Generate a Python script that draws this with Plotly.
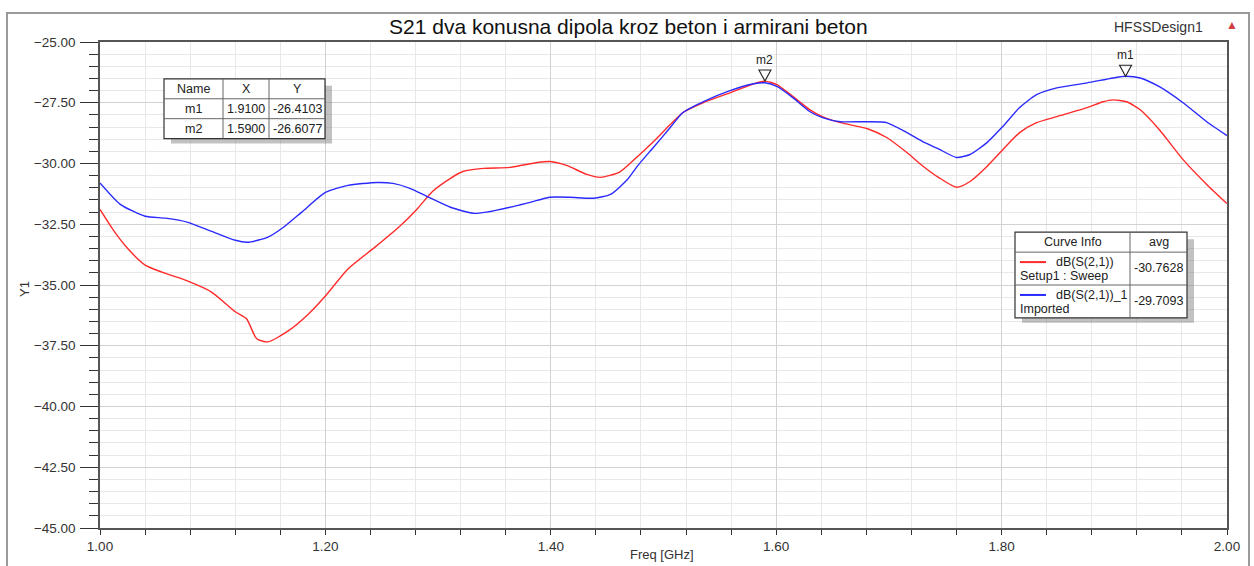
import plotly.graph_objects as go

# ---- data -----------------------------------------------------------------
freq_sweep = [1.000, 1.012, 1.025, 1.040, 1.055, 1.078, 1.099, 1.120, 1.130, 1.139,
              1.149, 1.167, 1.185, 1.200, 1.220, 1.244, 1.266, 1.281, 1.295, 1.311,
              1.322, 1.340, 1.364, 1.388, 1.399, 1.414, 1.432, 1.444, 1.461, 1.476,
              1.491, 1.506, 1.517, 1.535, 1.559, 1.580, 1.590, 1.601, 1.615, 1.630,
              1.641, 1.657, 1.681, 1.698, 1.716, 1.730, 1.744, 1.760, 1.772, 1.787,
              1.801, 1.816, 1.831, 1.849, 1.876, 1.890, 1.899, 1.911, 1.923, 1.940,
              1.961, 1.982, 2.000]
s21_sweep = [-31.89, -32.75, -33.52, -34.18, -34.47, -34.84, -35.29, -36.10, -36.39, -37.21,
             -37.34, -36.89, -36.19, -35.45, -34.34, -33.44, -32.58, -31.89, -31.15, -30.61,
             -30.33, -30.20, -30.16, -29.96, -29.92, -30.08, -30.45, -30.57, -30.35, -29.75,
             -29.10, -28.40, -27.91, -27.50, -27.09, -26.72, -26.61, -26.76, -27.25, -27.79,
             -28.07, -28.32, -28.57, -28.93, -29.55, -30.10, -30.57, -30.98, -30.74, -30.12,
             -29.43, -28.73, -28.32, -28.07, -27.70, -27.46, -27.38, -27.46, -27.79, -28.61,
             -29.84, -30.86, -31.65]

freq_imported = [1.000, 1.018, 1.040, 1.058, 1.078, 1.099, 1.120, 1.131, 1.149, 1.164,
                 1.179, 1.200, 1.220, 1.246, 1.260, 1.275, 1.290, 1.311, 1.331, 1.343,
                 1.364, 1.388, 1.399, 1.417, 1.438, 1.453, 1.468, 1.477, 1.491, 1.506,
                 1.517, 1.535, 1.559, 1.580, 1.590, 1.601, 1.615, 1.630, 1.641, 1.657,
                 1.681, 1.698, 1.716, 1.730, 1.744, 1.760, 1.772, 1.787, 1.801, 1.816,
                 1.831, 1.849, 1.876, 1.899, 1.910, 1.923, 1.940, 1.961, 1.982, 2.000]
s21_imported = [-30.80, -31.68, -32.17, -32.25, -32.42, -32.79, -33.16, -33.24, -33.03, -32.58,
                -32.00, -31.19, -30.90, -30.78, -30.82, -31.02, -31.35, -31.80, -32.05, -32.00,
                -31.80, -31.52, -31.39, -31.39, -31.43, -31.27, -30.66, -30.10, -29.34, -28.52,
                -27.91, -27.46, -27.00, -26.72, -26.68, -26.84, -27.30, -27.87, -28.11, -28.28,
                -28.28, -28.32, -28.73, -29.10, -29.40, -29.75, -29.63, -29.14, -28.48, -27.70,
                -27.17, -26.89, -26.68, -26.48, -26.41, -26.48, -26.84, -27.50, -28.28, -28.85]

marker_names = ["m1", "m2"]
marker_x = [1.9100, 1.5900]
marker_y = [-26.4103, -26.6077]

curve_names = ["dB(S(2,1))", "dB(S(2,1))_1"]
curve_sources = ["Setup1 : Sweep", "Imported"]
curve_avg = [-30.7628, -29.7093]
curve_colors = ["#ff2a2a", "#2a2aff"]

title_text = "S21 dva konusna dipola kroz beton i armirani beton"
design_name = "HFSSDesign1"
x_title = "Freq [GHz]"
y_title = "Y1"

# ---- layout geometry (pixels) ---------------------------------------------
W, H = 1254, 566
L, R, T, B = 100, 1227, 42, 530
FONT = "Liberation Sans, Arial, sans-serif"
TFS = 12.5  # table font size


def px(x):
    return (x - L) / (R - L)


def py(y):
    return (B - y) / (B - T)


fig = go.Figure()

for fx, fy, col, nm in [(freq_sweep, s21_sweep, curve_colors[0], curve_names[0]),
                        (freq_imported, s21_imported, curve_colors[1], curve_names[1])]:
    fig.add_trace(go.Scatter(x=fx, y=fy, mode="lines", name=nm,
                             line=dict(color=col, width=1.4, shape="spline", smoothing=0.6),
                             showlegend=False, hoverinfo="x+y"))

shapes = []
ann = []

# marker triangles and labels
for nm, mx, my in zip(marker_names, marker_x, marker_y):
    shapes.append(dict(type="path", xref="x", yref="y", xsizemode="pixel", ysizemode="pixel",
                       xanchor=mx, yanchor=my, path="M -6 11 L 6 11 L 0 0 Z",
                       line=dict(color="#222", width=1.1), fillcolor="rgba(0,0,0,0)"))
    ann.append(dict(x=mx, y=my, xref="x", yref="y", text=nm, showarrow=False,
                    xanchor="center", yanchor="bottom", yshift=12,
                    font=dict(family=FONT, size=12, color="#222")))

# outer frame
shapes.append(dict(type="rect", xref="paper", yref="paper", x0=px(7), x1=px(1249),
                   y0=py(575), y1=py(13), line=dict(color="#9a9a9a", width=2), layer="below"))

# marker table
tx0, tx1, ty0, ty1 = 164, 325, 79, 139
cols = [164, 223, 269, 325]
rows = [79, 99, 119, 139]
shapes.append(dict(type="rect", xref="paper", yref="paper", x0=px(tx0 + 7), x1=px(tx1 + 7),
                   y0=py(ty1 + 5), y1=py(ty0 + 7), line=dict(width=0),
                   fillcolor="rgba(120,120,120,0.45)"))
shapes.append(dict(type="rect", xref="paper", yref="paper", x0=px(tx0), x1=px(tx1),
                   y0=py(ty1), y1=py(ty0), line=dict(color="#333", width=1.2), fillcolor="white"))
for c in cols[1:-1]:
    shapes.append(dict(type="line", xref="paper", yref="paper", x0=px(c), x1=px(c),
                       y0=py(ty1), y1=py(ty0), line=dict(color="#666", width=1)))
for r in rows[1:-1]:
    shapes.append(dict(type="line", xref="paper", yref="paper", x0=px(tx0), x1=px(tx1),
                       y0=py(r), y1=py(r), line=dict(color="#666", width=1)))
table_rows = [["Name", "X", "Y"]] + [[n, f"{x:.4f}", f"{y:.4f}"]
                                      for n, x, y in zip(marker_names, marker_x, marker_y)]
for ri, row in enumerate(table_rows):
    for ci, txt in enumerate(row):
        ann.append(dict(xref="paper", yref="paper", x=px((cols[ci] + cols[ci + 1]) / 2),
                        y=py((rows[ri] + rows[ri + 1]) / 2), text=txt, showarrow=False,
                        xanchor="center", yanchor="middle",
                        font=dict(family=FONT, size=TFS, color="#222")))

# curve info table
lx0, lx1, ly0, ly1 = 1015, 1187, 233, 319
lcol = 1130
lrows = [233, 253, 286, 319]
shapes.append(dict(type="rect", xref="paper", yref="paper", x0=px(lx0 + 7), x1=px(lx1 + 7),
                   y0=py(ly1 + 5), y1=py(ly0 + 7), line=dict(width=0),
                   fillcolor="rgba(120,120,120,0.45)"))
shapes.append(dict(type="rect", xref="paper", yref="paper", x0=px(lx0), x1=px(lx1),
                   y0=py(ly1), y1=py(ly0), line=dict(color="#333", width=1.2), fillcolor="white"))
shapes.append(dict(type="line", xref="paper", yref="paper", x0=px(lcol), x1=px(lcol),
                   y0=py(ly1), y1=py(ly0), line=dict(color="#666", width=1)))
for r in lrows[1:-1]:
    shapes.append(dict(type="line", xref="paper", yref="paper", x0=px(lx0), x1=px(lx1),
                       y0=py(r), y1=py(r), line=dict(color="#666", width=1)))
ann.append(dict(xref="paper", yref="paper", x=px((lx0 + lcol) / 2), y=py(243), text="Curve Info",
                showarrow=False, xanchor="center", yanchor="middle",
                font=dict(family=FONT, size=TFS, color="#222")))
ann.append(dict(xref="paper", yref="paper", x=px((lcol + lx1) / 2), y=py(243), text="avg",
                showarrow=False, xanchor="center", yanchor="middle",
                font=dict(family=FONT, size=TFS, color="#222")))
for i in range(2):
    top = lrows[i + 1]
    ly = top + 10
    shapes.append(dict(type="line", xref="paper", yref="paper", x0=px(1020), x1=px(1046),
                       y0=py(ly), y1=py(ly), line=dict(color=curve_colors[i], width=2)))
    ann.append(dict(xref="paper", yref="paper", x=px(1054), y=py(ly), text=curve_names[i],
                    showarrow=False, xanchor="left", yanchor="middle",
                    font=dict(family=FONT, size=TFS, color="#222")))
    ann.append(dict(xref="paper", yref="paper", x=px(1018), y=py(top + 24), text=curve_sources[i],
                    showarrow=False, xanchor="left", yanchor="middle",
                    font=dict(family=FONT, size=TFS, color="#222")))
    ann.append(dict(xref="paper", yref="paper", x=px((lcol + lx1) / 2), y=py(top + 16),
                    text=f"{curve_avg[i]:.4f}", showarrow=False, xanchor="center", yanchor="middle",
                    font=dict(family=FONT, size=TFS, color="#222")))

# titles
ann.append(dict(xref="paper", yref="paper", x=px(628), y=py(26), text=title_text, showarrow=False,
                xanchor="center", yanchor="middle", font=dict(family=FONT, size=21, color="#111")))
ann.append(dict(xref="paper", yref="paper", x=px(1205), y=py(27), text=design_name, showarrow=False,
                xanchor="right", yanchor="middle", font=dict(family=FONT, size=14, color="#333")))
ann.append(dict(xref="paper", yref="paper", x=px(1232), y=py(25), text="▲", showarrow=False,
                xanchor="center", yanchor="middle", font=dict(family=FONT, size=12, color="#d04040")))
ann.append(dict(xref="paper", yref="paper", x=px(662), y=py(557), text=x_title, showarrow=False,
                xanchor="center", yanchor="middle", font=dict(family=FONT, size=13, color="#333")))
ann.append(dict(xref="paper", yref="paper", x=px(25), y=py(290), text=y_title, showarrow=False,
                textangle=-90, xanchor="center", yanchor="middle",
                font=dict(family=FONT, size=13, color="#333")))

axis_common = dict(showline=True, mirror=True, linecolor="#555", linewidth=1.5,
                   ticks="outside", tickcolor="#333", tickformat=".2f", zeroline=False,
                   gridcolor="#d2d2d2", gridwidth=1,
                   tickfont=dict(family=FONT, size=13.5, color="#333"))

fig.update_layout(
    width=W, height=H,
    margin=dict(l=L, r=W - R, t=T, b=H - B, pad=0),
    paper_bgcolor="white", plot_bgcolor="white",
    font=dict(family=FONT),
    xaxis=dict(range=[1.0, 2.0], dtick=0.2, tick0=1.0, ticklen=5, **axis_common,
               minor=dict(dtick=0.04, ticks="outside", ticklen=5, tickcolor="#333",
                          showgrid=True, gridcolor="#e8e8e8", gridwidth=1)),
    yaxis=dict(range=[-45, -25], dtick=2.5, tick0=-25, ticklen=18, ticklabelstandoff=2,
               **axis_common,
               minor=dict(dtick=0.5, ticks="outside", ticklen=9, tickcolor="#333",
                          showgrid=True, gridcolor="#e8e8e8", gridwidth=1)),
    shapes=shapes, annotations=ann,
)

fig.write_html("out.html")
